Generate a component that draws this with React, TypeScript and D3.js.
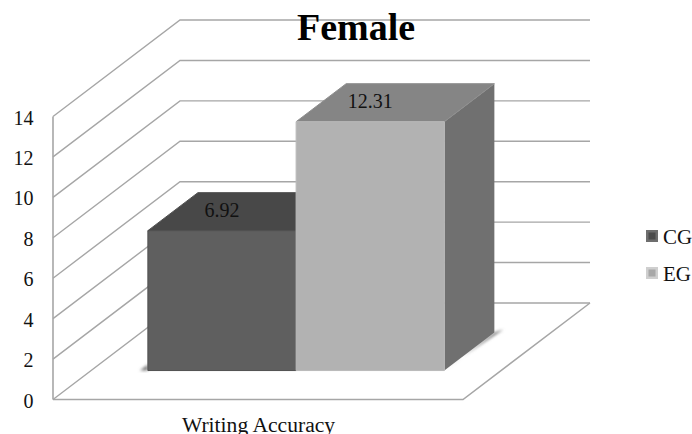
import React from "react";
import * as d3 from "d3";

const titleText = "Female";
const category = "Writing Accuracy";
const seriesNames = ["CG", "EG"];
const seriesValues = [6.92, 12.31];
const yTicks = [0, 2, 4, 6, 8, 10, 12, 14];

const frontColors = ["#5f5f5f", "#b2b2b2"];
const topColors = ["#484848", "#858585"];
const sideColors = ["#4a4a4a", "#707070"];
const frontEdges = ["#505050", "#bababa"];
const topEdges = ["#505050", "#8e8e8e"];
const swatchOuter = ["#6e6e6e", "#cfcfcf"];
const swatchInner = ["#4c4c4c", "#a8a8a8"];

const serif = "'Liberation Serif', serif";
const grid = "#a6a6a6";

// Oblique projection: x runs along the floor's front edge, depth recedes up and right.
const xScale = d3.scaleLinear().domain([0, 1]).range([0, 410]);
const yScale = d3.scaleLinear().domain([0, 14]).range([399.5, 116.5]);
const depthX = d3.scaleLinear().domain([0, 1]).range([53, 180]);
const depthY = d3.scaleLinear().domain([0, 1]).range([0, -96.5]);
const project = (u: number, d: number, v: number): [number, number] => [
  depthX(d) + xScale(u),
  yScale(v) + depthY(d),
];

const band = d3
  .scaleBand<string>()
  .domain(seriesNames)
  .range([0, 1])
  .paddingOuter(0.383)
  .paddingInner(0);

const barFront = 0.3;
const barBack = 0.694;

const poly = (pts: [number, number][]) => pts.map((p) => p.join(",")).join(" ");

export default function App() {
  const line = d3.line();
  const egEnd = band("EG")! + band.bandwidth();
  const egFrontFoot = project(egEnd, barFront, 0);
  const egBackFoot = project(egEnd, barBack, 0);
  const cgFoot = project(band("CG")!, barFront, 0);
  return (
    <svg
      width={692}
      height={434}
      viewBox="0 0 692 434"
      style={{ position: "absolute", left: 0, top: 0, background: "#fff" }}
    >
      <defs>
        <filter id="soft" x="-30%" y="-30%" width="160%" height="160%">
          <feGaussianBlur stdDeviation="1.6" />
        </filter>
      </defs>

      {/* Walls: each tick runs up the side wall, then along the back wall */}
      {yTicks.map((t) => (
        <path
          key={t}
          d={line([project(0, 0, t), project(0, 1, t), project(1, 1, t)]) as string}
          fill="none"
          stroke={grid}
          strokeWidth={1.4}
        />
      ))}
      {/* Floor outline and the vertical axis */}
      <path
        d={line([project(0, 0, 0), project(1, 0, 0), project(1, 1, 0)]) as string}
        fill="none"
        stroke={grid}
        strokeWidth={1.5}
      />
      <path
        d={line([project(0, 0, 14), project(0, 0, 0)]) as string}
        fill="none"
        stroke={grid}
        strokeWidth={1.6}
      />

      {/* Contact shadows under the bars */}
      <polygon
        points={poly([
          [cgFoot[0] - 8, cgFoot[1]],
          [cgFoot[0], cgFoot[1] - 6],
          cgFoot,
        ])}
        fill="#777"
        filter="url(#soft)"
      />
      <polygon
        points={poly([
          egFrontFoot,
          egBackFoot,
          [egBackFoot[0] + 9, egBackFoot[1] - 3],
          [egFrontFoot[0] + 14, egFrontFoot[1] - 11],
        ])}
        fill="#777"
        filter="url(#soft)"
      />

      {/* Bars, drawn left to right so the taller one overlaps */}
      {seriesNames.map((name, i) => {
        const x0 = band(name)!;
        const x1 = x0 + band.bandwidth();
        const v = seriesValues[i];
        return (
          <g key={name}>
            <polygon
              points={poly([
                project(x1, barFront, 0),
                project(x1, barBack, 0),
                project(x1, barBack, v),
                project(x1, barFront, v),
              ])}
              fill={sideColors[i]}
            />
            <polygon
              points={poly([
                project(x0, barFront, v),
                project(x0, barBack, v),
                project(x1, barBack, v),
                project(x1, barFront, v),
              ])}
              fill={topColors[i]}
              stroke={topEdges[i]}
              strokeWidth={1}
            />
            <polygon
              points={poly([
                project(x0, barFront, 0),
                project(x1, barFront, 0),
                project(x1, barFront, v),
                project(x0, barFront, v),
              ])}
              fill={frontColors[i]}
              stroke={frontEdges[i]}
              strokeWidth={1}
            />
          </g>
        );
      })}

      {/* Value labels sit on the bar tops, centred over the front face */}
      {seriesNames.map((name, i) => {
        const x0 = band(name)!;
        const [px, py] = project(x0 + band.bandwidth() / 2, barFront, seriesValues[i]);
        return (
          <text
            key={name}
            x={px}
            y={py - 13.5}
            textAnchor="middle"
            fontFamily={serif}
            fontSize={20}
            fill="#111"
          >
            {seriesValues[i].toFixed(2)}
          </text>
        );
      })}

      {/* Axis tick labels */}
      {yTicks.map((t) => (
        <text
          key={t}
          x={33.5}
          y={yScale(t) + 8}
          textAnchor="end"
          fontFamily={serif}
          fontSize={20}
          fill="#111"
        >
          {t}
        </text>
      ))}

      <text x={258.5} y={432} textAnchor="middle" fontFamily={serif} fontSize={21.6} fill="#111">
        {category}
      </text>

      <text
        x={356}
        y={40}
        textAnchor="middle"
        fontFamily={serif}
        fontSize={38}
        fontWeight="bold"
        fill="#000"
      >
        {titleText}
      </text>

      {/* Legend: bevelled swatches with series names */}
      {seriesNames.map((name, i) => {
        const x = 646;
        const y = 230 + i * 37;
        const s = 12;
        return (
          <g key={name}>
            <rect x={x} y={y} width={s} height={s} fill={swatchOuter[i]} />
            <rect x={x + 2.5} y={y + 2.5} width={s - 5} height={s - 5} fill={swatchInner[i]} />
            <text x={663} y={y + 14} fontFamily={serif} fontSize={21} fill="#111">
              {name}
            </text>
          </g>
        );
      })}
    </svg>
  );
}
